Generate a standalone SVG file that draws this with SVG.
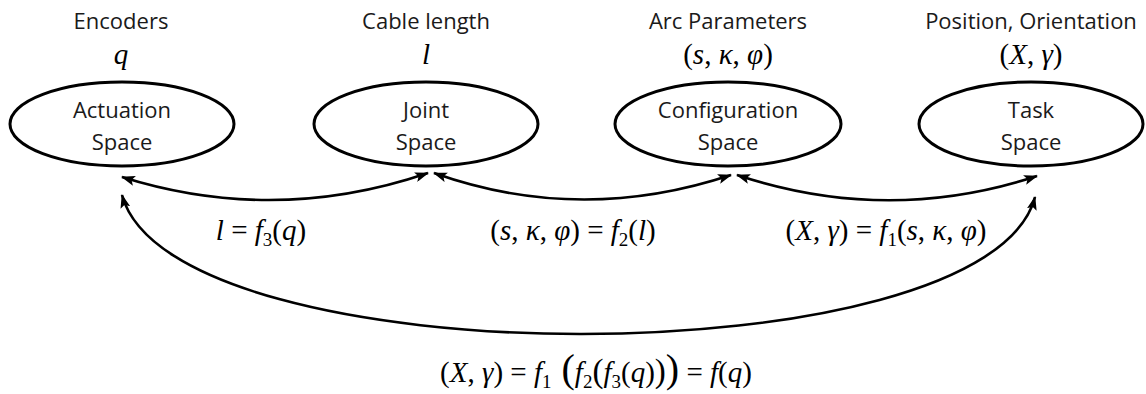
<svg xmlns="http://www.w3.org/2000/svg" width="1146" height="394" viewBox="0 0 1146 394">
<style>
.node ellipse{fill:#fff;stroke:#000;stroke-width:3}
.lbl{font-family:"Open Sans","Liberation Sans",sans-serif;font-size:22px;fill:#1a1a1a;text-anchor:middle}
.m{font-family:"Liberation Serif","DejaVu Serif",serif;font-size:29px;fill:#000;text-anchor:middle}
.i{font-style:italic}
.conn path{fill:none;stroke:#000;stroke-width:2.6}
</style>
<defs>
<marker id="ah" viewBox="0 0 14 10" refX="13" refY="5" markerWidth="14" markerHeight="10" markerUnits="userSpaceOnUse" orient="auto-start-reverse">
<path d="M0,0 L14,5 L0,10 L3,5 z" fill="#000"/>
</marker>
</defs>
<rect width="1146" height="394" fill="#fff"/>

<g id="actuation" class="node">
<text class="lbl" x="121" y="29">Encoders</text>
<text class="m i" x="121" y="64">q</text>
<ellipse cx="122" cy="124" rx="112" ry="42"/>
<text class="lbl" x="122" y="118">Actuation</text>
<text class="lbl" x="122" y="150">Space</text>
</g>

<g id="joint" class="node">
<text class="lbl" x="426" y="29">Cable length</text>
<text class="m i" x="426" y="64">l</text>
<ellipse cx="426" cy="124" rx="112" ry="42"/>
<text class="lbl" x="426" y="118">Joint</text>
<text class="lbl" x="426" y="150">Space</text>
</g>

<g id="configuration" class="node">
<text class="lbl" x="728" y="29">Arc Parameters</text>
<text class="m" x="728" y="64">(<tspan class="i">s</tspan>, <tspan class="i">κ</tspan>, <tspan class="i">φ</tspan>)</text>
<ellipse cx="728" cy="124" rx="113" ry="42"/>
<text class="lbl" x="728" y="118">Configuration</text>
<text class="lbl" x="728" y="150">Space</text>
</g>

<g id="task" class="node">
<text class="lbl" x="1031" y="29">Position, Orientation</text>
<text class="m" x="1031" y="64">(<tspan class="i">X</tspan>, <tspan class="i">γ</tspan>)</text>
<ellipse cx="1031" cy="124" rx="112" ry="42"/>
<text class="lbl" x="1031" y="118">Task</text>
<text class="lbl" x="1031" y="150">Space</text>
</g>

<g id="connectors" class="conn">
<path d="M122,177 Q275,225 428,173" marker-start="url(#ah)" marker-end="url(#ah)"/>
<path d="M434,173 Q580,225 731,175" marker-start="url(#ah)" marker-end="url(#ah)"/>
<path d="M737,175 Q888,225 1037,176" marker-start="url(#ah)" marker-end="url(#ah)"/>
<path d="M122,195 C172,380 988,380 1035,197" marker-start="url(#ah)" marker-end="url(#ah)"/>
</g>

<g id="labels">
<text class="m" x="261" y="240"><tspan class="i">l</tspan> = <tspan class="i">f</tspan><tspan font-size="19" dy="6">3</tspan><tspan dy="-6">(</tspan><tspan class="i">q</tspan>)</text>
<text class="m" x="573" y="240">(<tspan class="i">s</tspan>, <tspan class="i">κ</tspan>, <tspan class="i">φ</tspan>) = <tspan class="i">f</tspan><tspan font-size="19" dy="6">2</tspan><tspan dy="-6">(</tspan><tspan class="i">l</tspan>)</text>
<text class="m" x="886" y="240">(<tspan class="i">X</tspan>, <tspan class="i">γ</tspan>) = <tspan class="i">f</tspan><tspan font-size="19" dy="6">1</tspan><tspan dy="-6">(</tspan><tspan class="i">s</tspan>, <tspan class="i">κ</tspan>, <tspan class="i">φ</tspan>)</text>
<text class="m" x="596" y="382">(<tspan class="i">X</tspan>, <tspan class="i">γ</tspan>) = <tspan class="i">f</tspan><tspan font-size="19" dy="6">1</tspan><tspan dy="-6" font-size="40"> (</tspan><tspan class="i">f</tspan><tspan font-size="19" dy="6">2</tspan><tspan dy="-6" font-size="33">(</tspan><tspan class="i">f</tspan><tspan font-size="19" dy="6">3</tspan><tspan dy="-6">(</tspan><tspan class="i">q</tspan>)<tspan font-size="33">)</tspan><tspan font-size="40">)</tspan> = <tspan class="i">f</tspan>(<tspan class="i">q</tspan>)</text>
</g>
</svg>
